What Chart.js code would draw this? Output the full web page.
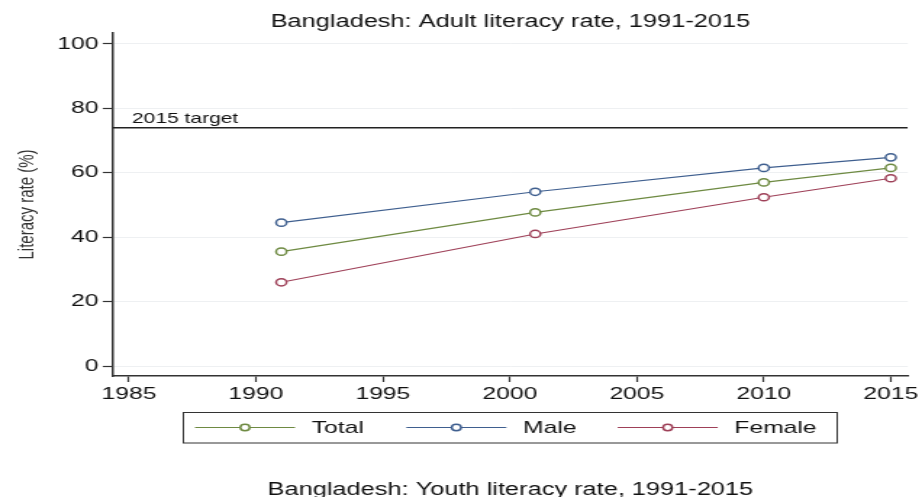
<!DOCTYPE html>
<html>
<head>
<meta charset="utf-8">
<script src="https://cdn.jsdelivr.net/npm/chart.js@4.4.1/dist/chart.umd.min.js"></script>
<style>
  html, body { margin: 0; padding: 0; background: #fff; overflow: hidden; }
  /* the original graph is stretched sideways, so the canvas is too */
  #wrap { width: 636px; height: 497px; transform: scaleX(1.4497); transform-origin: 0 0; }
</style>
</head>
<body>
<div id="wrap"><canvas id="chart" width="636" height="497"></canvas></div>
<script>
// data
const years = [1991, 2001, 2010, 2015];
const total = [35.5, 47.7, 57.0, 61.5];
const male = [44.5, 54.1, 61.5, 64.8];
const female = [26.0, 41.0, 52.4, 58.3];
const target = 74;
const xTicks = [1985, 1990, 1995, 2000, 2005, 2010, 2015];
const yTicks = [0, 20, 40, 60, 80, 100];

const xMin = 1984.37, xMax = 2015.67;
const fontFam = "'Liberation Sans', Arial, sans-serif";

function pts(vals) {
  return years.map((y, i) => ({ x: y, y: vals[i] }));
}

function serie(label, vals, color) {
  return {
    label: label,
    data: pts(vals),
    borderColor: color,
    backgroundColor: '#fff',
    borderWidth: 1.2,
    pointRadius: 3.6,
    pointBorderWidth: 1.5,
    pointBackgroundColor: '#fff',
    pointBorderColor: color,
    tension: 0
  };
}

// titles, target label and the boxed legend
const extras = {
  id: 'extras',
  afterDraw(chart) {
    const ctx = chart.ctx;
    const area = chart.chartArea;
    const cx = (area.left + area.right) / 2;
    ctx.save();
    ctx.fillStyle = '#111';
    ctx.font = '17.5px ' + fontFam;
    ctx.textAlign = 'center';
    ctx.textBaseline = 'alphabetic';
    ctx.fillText('Bangladesh: Adult literacy rate, 1991-2015', cx, 27);
    ctx.fillText('Bangladesh: Youth literacy rate, 1991-2015', cx, 495);

    // label over the target line
    const ty = chart.scales.y.getPixelForValue(target);
    ctx.font = '14.5px ' + fontFam;
    ctx.textAlign = 'left';
    ctx.textBaseline = 'bottom';
    ctx.fillText('2015 target', 91, ty - 1);

    // legend
    ctx.strokeStyle = '#333';
    ctx.lineWidth = 1;
    ctx.strokeRect(126.5, 412.5, 451, 30.5);
    const ly = 427.5;
    chart.data.datasets.slice(0, 3).forEach((ds, i) => {
      const x0 = 134.5 + i * 145.8;
      ctx.strokeStyle = ds.borderColor;
      ctx.lineWidth = 1.2;
      ctx.beginPath();
      ctx.moveTo(x0, ly);
      ctx.lineTo(x0 + 69, ly);
      ctx.stroke();
      ctx.beginPath();
      ctx.arc(x0 + 34.5, ly, 3.2, 0, Math.PI * 2);
      ctx.fillStyle = '#fff';
      ctx.fill();
      ctx.lineWidth = 1.5;
      ctx.stroke();
      ctx.fillStyle = '#111';
      ctx.font = '17px ' + fontFam;
      ctx.textAlign = 'left';
      ctx.textBaseline = 'middle';
      ctx.fillText(ds.label, x0 + 80.5, ly + 1);
    });
    ctx.restore();
  }
};

new Chart(document.getElementById('chart'), {
  type: 'line',
  data: {
    datasets: [
      serie('Total', total, '#6e8a42'),
      serie('Male', male, '#3f5f8f'),
      serie('Female', female, '#9e4058'),
      {
        label: '2015 target',
        data: [{ x: xMin, y: target }, { x: xMax, y: target }],
        borderColor: '#222',
        borderWidth: 1.4,
        pointRadius: 0
      }
    ]
  },
  options: {
    responsive: false,
    animation: false,
    devicePixelRatio: 1,
    layout: { padding: { left: 0, top: 33, right: 9.8, bottom: 0 } },
    plugins: { legend: { display: false }, title: { display: false }, tooltip: { enabled: false } },
    scales: {
      x: {
        type: 'linear',
        min: xMin,
        max: xMax,
        afterBuildTicks: s => { s.ticks = xTicks.map(v => ({ value: v })); },
        afterFit: s => { s.height = 121; },
        grid: { drawOnChartArea: false, tickLength: 6, tickColor: '#333', tickWidth: 1.2 },
        border: { color: '#333', width: 1.5 },
        ticks: { color: '#111', padding: 2, maxRotation: 0, font: { family: fontFam, size: 17 }, callback: v => String(v) }
      },
      y: {
        min: -3.1,
        max: 103.4,
        afterBuildTicks: s => { s.ticks = yTicks.map(v => ({ value: v })); },
        afterFit: s => { s.width = 77.9; },
        grid: { color: '#eef0f2', lineWidth: 1, tickLength: 7, tickColor: '#333', tickWidth: 1.2 },
        border: { color: '#333', width: 1.5 },
        ticks: { color: '#111', padding: 3, font: { family: fontFam, size: 17 } },
        title: {
          display: true,
          text: 'Literacy rate (%)',
          color: '#333',
          padding: { top: 10, bottom: 0 },
          font: { family: fontFam, size: 15 }
        }
      }
    }
  },
  plugins: [extras]
});
</script>
</body>
</html>
